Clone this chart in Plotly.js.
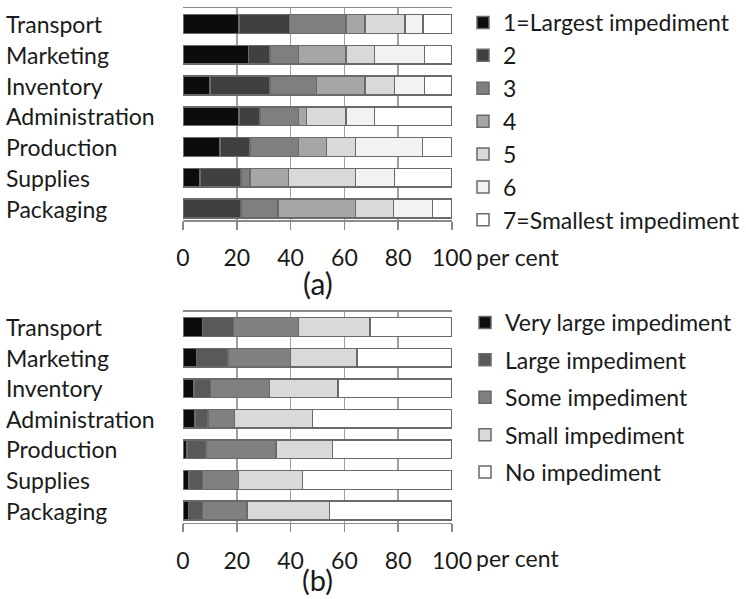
<!DOCTYPE html>
<html>
<head>
<meta charset="utf-8">
<script src="https://cdn.plot.ly/plotly-3.0.1.min.js"></script>
<style>html,body{margin:0;padding:0;background:#fff;}#chart{width:746px;height:599px;}</style>
</head>
<body>
<div id="chart"></div>
<script>
const categories = ['Transport','Marketing','Inventory','Administration','Production','Supplies','Packaging'];

// Panel (a): ranking 1..7, per cent of respondents
const rankLabels = ['1=Largest impediment','2','3','4','5','6','7=Smallest impediment'];
const rank1 = [20.9, 24.3, 10.0, 20.9, 13.8, 6.3, 0];
const rank2 = [18.6, 8.0, 22.3, 7.7, 11.1, 15.3, 21.6];
const rank3 = [21.0, 10.6, 17.4, 14.3, 18.0, 3.3, 13.8];
const rank4 = [7.2, 17.6, 18.0, 3.1, 10.5, 14.3, 28.8];
const rank5 = [14.8, 10.6, 10.9, 14.5, 10.8, 25.0, 14.0];
const rank6 = [6.8, 18.6, 11.1, 10.6, 24.9, 14.4, 14.6];
const rank7 = [10.7, 10.3, 10.3, 28.9, 10.9, 21.4, 7.2];

// Panel (b): degree of impediment
const levelLabels = ['Very large impediment','Large impediment','Some impediment','Small impediment','No impediment'];
const veryLarge = [7.3, 5.1, 4.1, 4.5, 1.4, 2.3, 2.0];
const large = [11.4, 11.7, 6.2, 4.7, 7.2, 5.0, 5.3];
const some = [24.2, 23.2, 21.8, 9.9, 26.0, 13.3, 16.4];
const small = [26.6, 24.6, 25.6, 29.1, 21.0, 23.9, 30.7];
const none = [30.5, 35.4, 42.3, 51.8, 44.4, 55.5, 45.6];

const tickVals = [0, 20, 40, 60, 80, 100];
const unitLabel = 'per cent';
const panelLabels = ['(a)', '(b)'];

const rankColors = ['#0c0c0c','#404040','#7f7f7f','#a6a6a6','#d9d9d9','#f2f2f2','#ffffff'];
const levelColors = ['#0c0c0c','#595959','#808080','#d9d9d9','#ffffff'];
const FONT = 'Lato, "Open Sans", sans-serif';
const TXT = '#1a1a1a';
const FS = 23;

const traces = [];
[rank1, rank2, rank3, rank4, rank5, rank6, rank7].forEach((vals, i) => {
  traces.push({
    type: 'bar', orientation: 'h', x: vals, y: categories,
    name: rankLabels[i], xaxis: 'x', yaxis: 'y', legend: 'legend',
    legendgroup: 'a' + i, width: 0.61,
    marker: {color: rankColors[i], line: {color: '#6a6a6a', width: 1.5}},
    hoverinfo: 'x+name'
  });
});
[veryLarge, large, some, small, none].forEach((vals, i) => {
  traces.push({
    type: 'bar', orientation: 'h', x: vals, y: categories,
    name: levelLabels[i], xaxis: 'x2', yaxis: 'y2', legend: 'legend2',
    legendgroup: 'b' + i, width: 0.61,
    marker: {color: levelColors[i], line: {color: '#6a6a6a', width: 1.5}},
    hoverinfo: 'x+name'
  });
});

const xDom = [183/746, 452/746];
function xAxis(anchor) {
  return {
    domain: xDom, anchor: anchor, range: [0, 100], tickvals: tickVals,
    showgrid: true, gridcolor: '#a0a0a0', gridwidth: 1.5,
    showline: true, mirror: true, linecolor: '#8a8a8a', linewidth: 1.5,
    ticks: 'outside', ticklen: 8, tickcolor: '#8a8a8a', tickwidth: 1.5,
    tickfont: {family: FONT, size: FS, color: TXT}, ticklabelstandoff: 9,
    zeroline: false, fixedrange: true
  };
}
function yAxis(anchor, domain, range) {
  return {
    domain: domain, anchor: anchor, type: 'category', categoryarray: categories,
    range: range, showticklabels: false, showgrid: false, zeroline: false,
    showline: false, ticks: '', fixedrange: true
  };
}

const annotations = [];
categories.forEach(c => {
  annotations.push({xref: 'paper', yref: 'y', x: 4/746, y: c, text: c, showarrow: false,
    xanchor: 'left', yanchor: 'middle', font: {family: FONT, size: FS, color: TXT}});
  annotations.push({xref: 'paper', yref: 'y2', x: 4/746, y: c, text: c, showarrow: false,
    xanchor: 'left', yanchor: 'middle', font: {family: FONT, size: FS, color: TXT}});
});
annotations.push({xref: 'x', yref: 'paper', x: 100, y: (599-257)/599, text: unitLabel, showarrow: false,
  xanchor: 'left', yanchor: 'middle', xshift: 22, font: {family: FONT, size: FS, color: TXT}});
annotations.push({xref: 'x2', yref: 'paper', x: 100, y: (599-558)/599, text: unitLabel, showarrow: false,
  xanchor: 'left', yanchor: 'middle', xshift: 22, font: {family: FONT, size: FS, color: TXT}});
annotations.push({xref: 'x domain', yref: 'paper', x: 0.5, y: (599-283)/599, text: panelLabels[0], showarrow: false,
  xanchor: 'center', yanchor: 'middle', font: {family: FONT, size: 30, color: TXT}});
annotations.push({xref: 'x2 domain', yref: 'paper', x: 0.5, y: 0, text: panelLabels[1], showarrow: false,
  xanchor: 'center', yanchor: 'bottom', font: {family: FONT, size: 29, color: TXT}});

const layout = {
  width: 746, height: 599,
  margin: {l: 0, r: 0, t: 0, b: 0},
  paper_bgcolor: '#ffffff', plot_bgcolor: '#ffffff',
  barmode: 'stack', bargap: 0.39,
  font: {family: FONT, size: FS, color: TXT},
  xaxis: xAxis('y'),
  yaxis: yAxis('x', [(599-220)/599, (599-8)/599], [6.37, -0.52]),
  xaxis2: xAxis('y2'),
  yaxis2: yAxis('x2', [(599-522.5)/599, (599-311.7)/599], [6.39, -0.5]),
  legend: {x: 463/746, y: (599-1)/599, xanchor: 'left', yanchor: 'top', traceorder: 'grouped',
    tracegroupgap: 0, bgcolor: 'rgba(0,0,0,0)', font: {family: FONT, size: FS, color: TXT}},
  legend2: {x: 465/746, y: (599-301)/599, xanchor: 'left', yanchor: 'top', traceorder: 'grouped',
    tracegroupgap: 4.5, bgcolor: 'rgba(0,0,0,0)', font: {family: FONT, size: FS, color: TXT}},
  annotations: annotations,
  showlegend: true
};

Plotly.newPlot('chart', traces, layout, {displayModeBar: false, staticPlot: true});
</script>
</body>
</html>
